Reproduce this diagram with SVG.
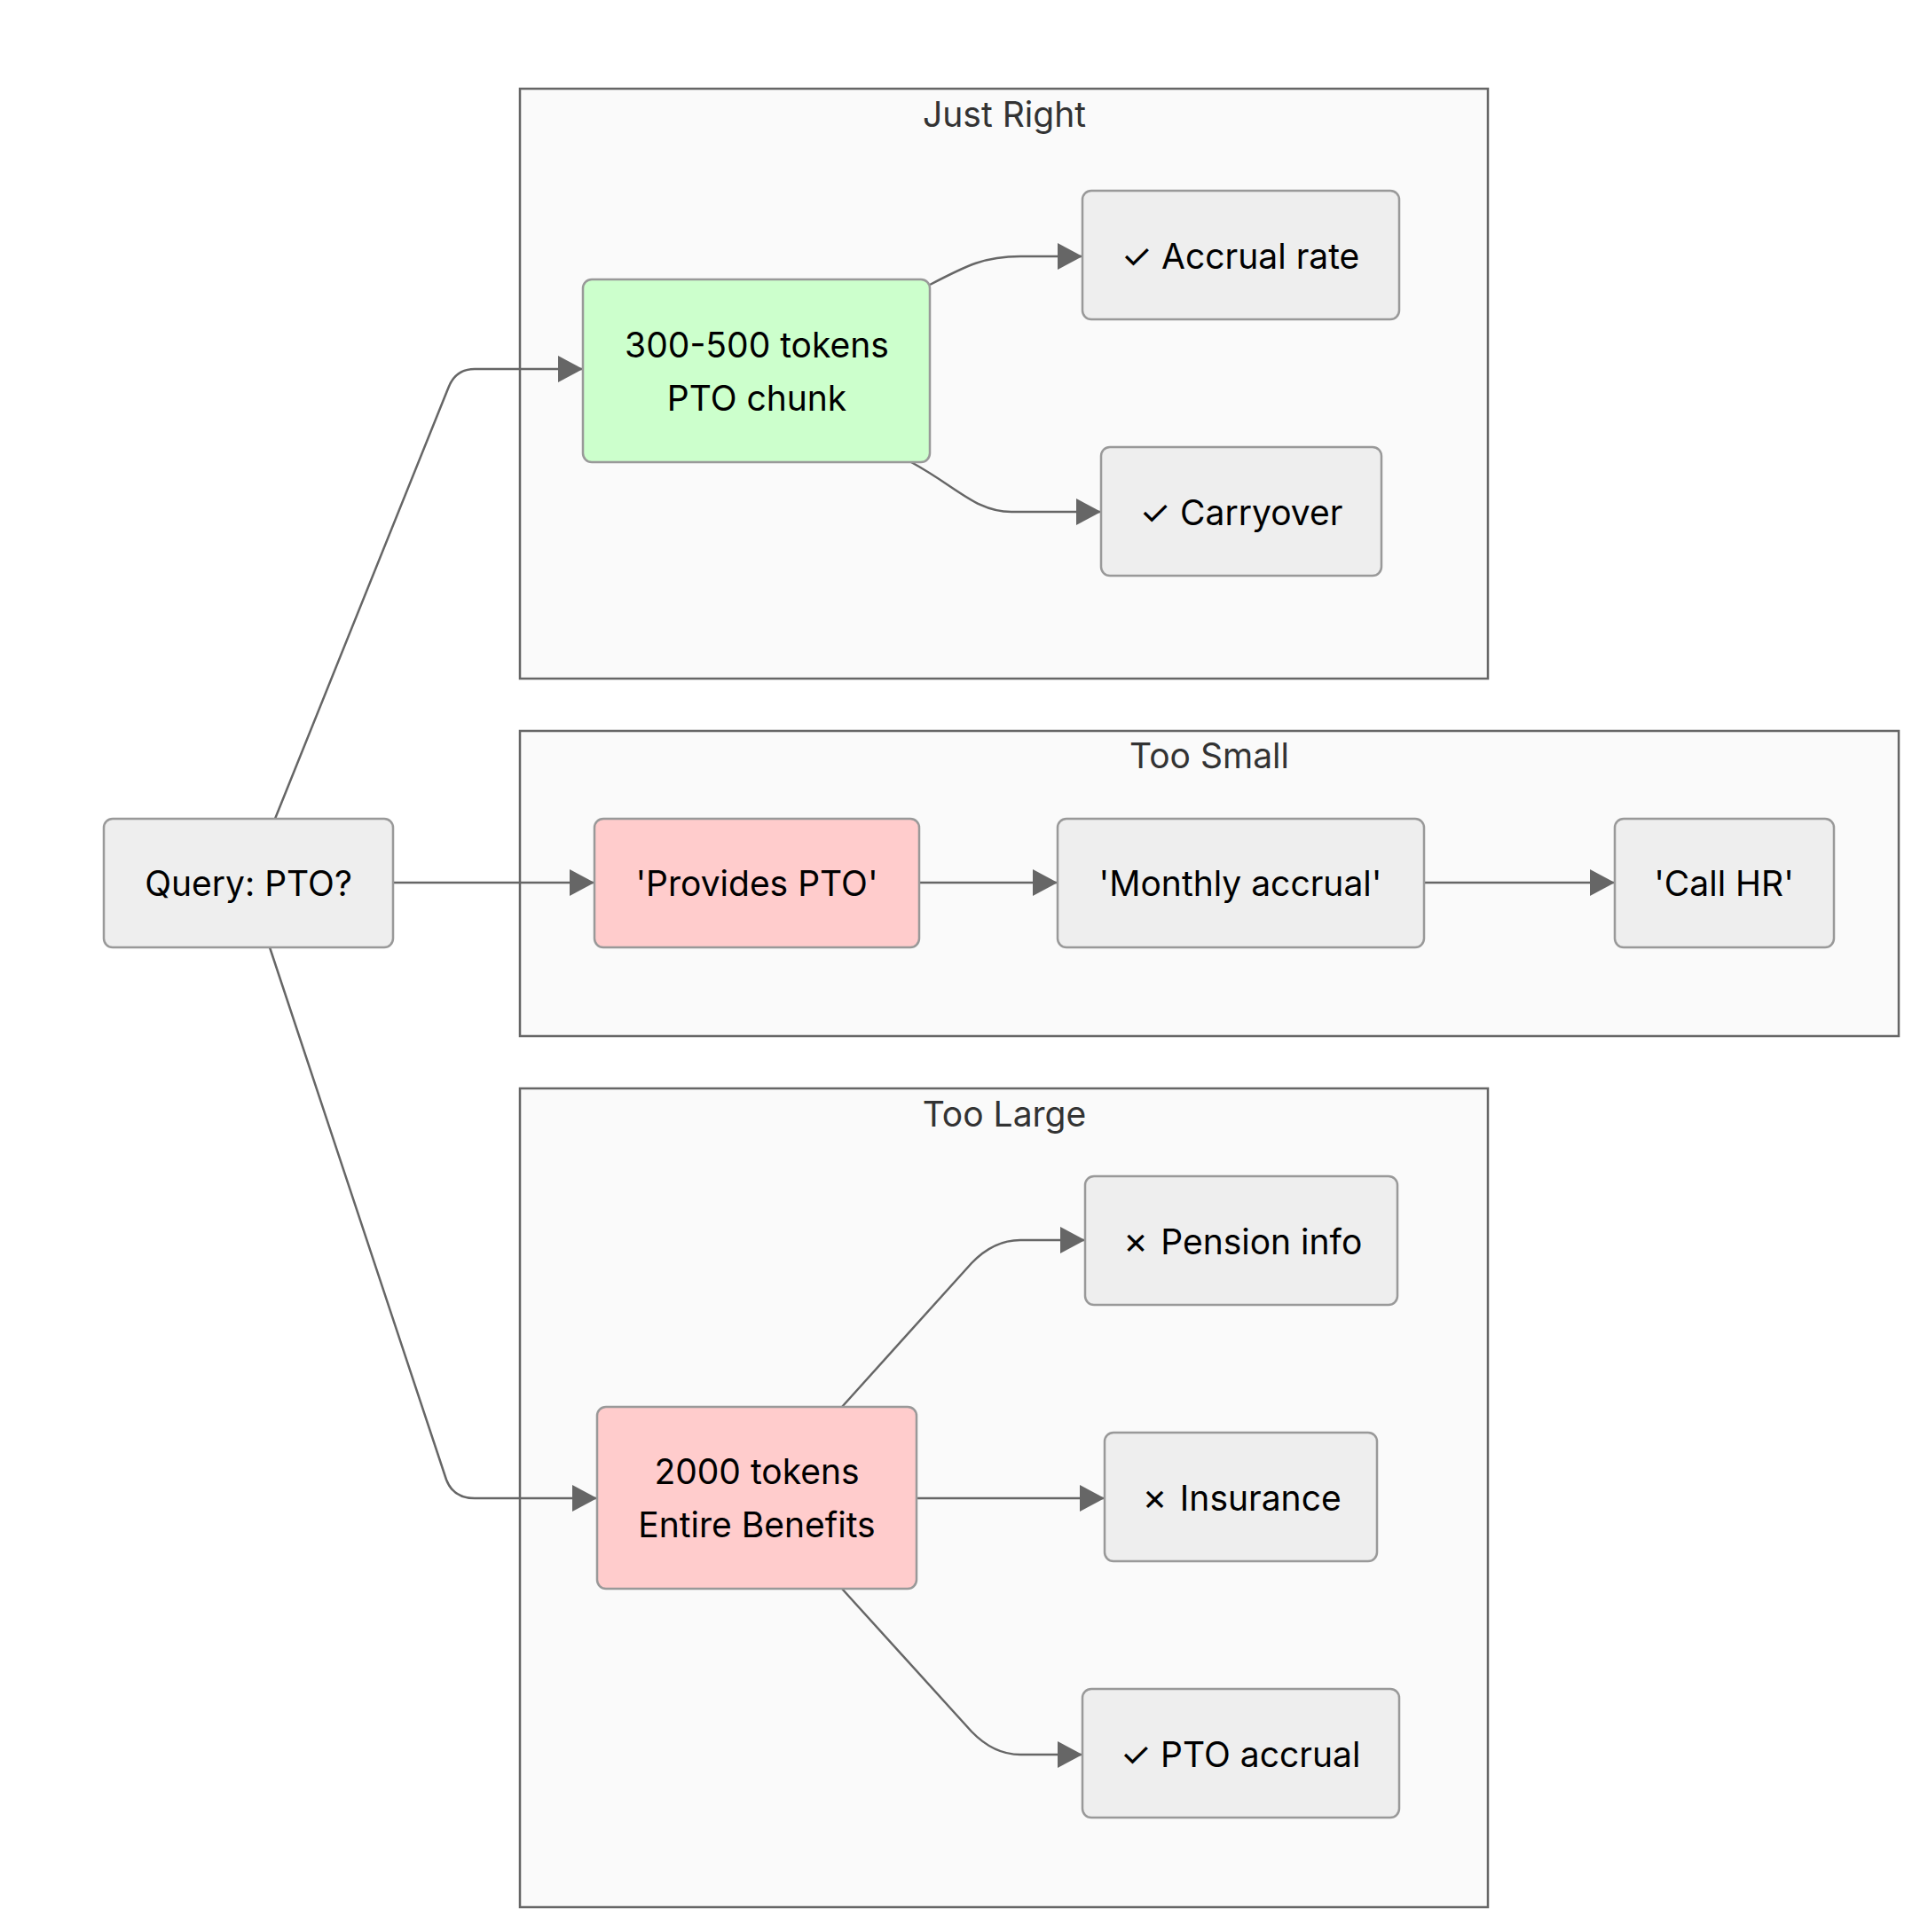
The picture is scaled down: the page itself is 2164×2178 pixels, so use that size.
<svg xmlns="http://www.w3.org/2000/svg" width="2164" height="2178" viewBox="0 0 2164 2178">
<style>
.cl{fill:#fafafa;stroke:#666;stroke-width:2.5}
.ct{font-family:Inter,"Liberation Sans",sans-serif;font-size:39px;fill:#333;text-anchor:middle}
.n{fill:#eeeeee;stroke:#999;stroke-width:2.5}
.g{fill:#ccffcc;stroke:#999;stroke-width:2.5}
.r{fill:#ffcccc;stroke:#999;stroke-width:2.5}
.t{font-family:Inter,"Liberation Sans",sans-serif;font-size:39px;fill:#000;text-anchor:middle;dominant-baseline:central}
.e{fill:none;stroke:#666;stroke-width:2.5}
</style>
<defs><marker id="a" markerUnits="userSpaceOnUse" markerWidth="30" markerHeight="30" refX="28" refY="15" orient="auto"><path d="M0,0 L28,15 L0,30 z" fill="#666"/></marker></defs>
<rect width="2164" height="2178" fill="#fff"/>
<g id="clusters">
<g id="just-right"><rect class="cl" x="586" y="100" width="1091" height="665"/><text class="ct" x="1132" y="143">Just Right</text></g>
<g id="too-small"><rect class="cl" x="586" y="824" width="1554" height="344"/><text class="ct" x="1363" y="866">Too Small</text></g>
<g id="too-large"><rect class="cl" x="586" y="1227" width="1091" height="923"/><text class="ct" x="1132" y="1270">Too Large</text></g>
</g>
<g id="connectors">
<path class="e" marker-end="url(#a)" d="M310,923 L505,438 Q513,416 535,416 L657,416"/>
<path class="e" marker-end="url(#a)" d="M443,995 L670,995"/>
<path class="e" marker-end="url(#a)" d="M304,1068 L503,1668 Q511,1689 535,1689 L673,1689"/>
<path class="e" marker-end="url(#a)" d="M1048,321 C1090,299 1110,289 1150,289 L1220,289"/>
<path class="e" marker-end="url(#a)" d="M1027,521 C1080,550 1100,577 1140,577 L1241,577"/>
<path class="e" marker-end="url(#a)" d="M1036,995 L1192,995"/>
<path class="e" marker-end="url(#a)" d="M1605,995 L1820,995"/>
<path class="e" marker-end="url(#a)" d="M949,1586 L1095,1424 Q1120,1398 1150,1398 L1223,1398"/>
<path class="e" marker-end="url(#a)" d="M1033,1689 L1245,1689"/>
<path class="e" marker-end="url(#a)" d="M949,1791 L1095,1952 Q1120,1978 1150,1978 L1220,1978"/>
</g>
<g id="query"><rect class="n" x="117" y="923" width="326" height="145" rx="10"/><text class="t" x="280" y="995">Query: PTO?</text></g>
<g id="jr-chunk"><rect class="g" x="657" y="315" width="391" height="206" rx="10"/><text class="t" x="853" y="388">300-500 tokens</text><text class="t" x="853" y="448">PTO chunk</text></g>
<g id="jr-accrual"><rect class="n" x="1220" y="215" width="357" height="145" rx="10"/><text class="t" x="1398" y="288">✓ Accrual rate</text></g>
<g id="jr-carry"><rect class="n" x="1241" y="504" width="316" height="145" rx="10"/><text class="t" x="1399" y="577">✓ Carryover</text></g>
<g id="ts-provides"><rect class="r" x="670" y="923" width="366" height="145" rx="10"/><text class="t" x="853" y="995">'Provides PTO'</text></g>
<g id="ts-monthly"><rect class="n" x="1192" y="923" width="413" height="145" rx="10"/><text class="t" x="1398" y="995">'Monthly accrual'</text></g>
<g id="ts-callhr"><rect class="n" x="1820" y="923" width="247" height="145" rx="10"/><text class="t" x="1943" y="995">'Call HR'</text></g>
<g id="tl-chunk"><rect class="r" x="673" y="1586" width="360" height="205" rx="10"/><text class="t" x="853" y="1658">2000 tokens</text><text class="t" x="853" y="1718">Entire Benefits</text></g>
<g id="tl-pension"><rect class="n" x="1223" y="1326" width="352" height="145" rx="10"/><text class="t" x="1399" y="1399">✗ Pension info</text></g>
<g id="tl-insurance"><rect class="n" x="1245" y="1615" width="307" height="145" rx="10"/><text class="t" x="1398" y="1688">✗ Insurance</text></g>
<g id="tl-pto"><rect class="n" x="1220" y="1904" width="357" height="145" rx="10"/><text class="t" x="1398" y="1977">✓ PTO accrual</text></g>
</svg>
